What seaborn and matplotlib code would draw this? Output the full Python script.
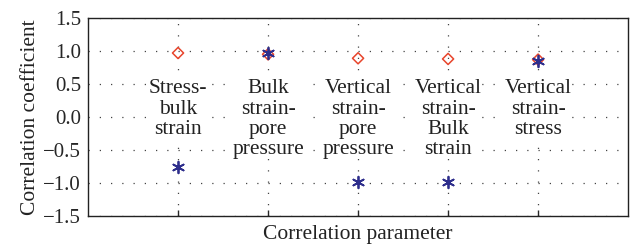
import matplotlib
matplotlib.use("Agg")
import matplotlib.pyplot as plt
import seaborn as sns
import pandas as pd

categories = ["Stress-\nbulk\nstrain", "Bulk\nstrain-\npore\npressure",
              "Vertical\nstrain-\npore\npressure", "Vertical\nstrain-\nBulk\nstrain",
              "Vertical\nstrain-\nstress"]
positions = [1, 2, 3, 4, 5]
series_a = [0.97, 0.95, 0.89, 0.88, 0.87]     # red diamonds
series_b = [-0.76, 0.97, -0.99, -0.99, 0.85]  # blue asterisks
yticks = [1.5, 1.0, 0.5, 0.0, -0.5, -1.0, -1.5]

sns.set_theme(style="white")
plt.rcParams["font.family"] = ["Liberation Serif", "DejaVu Serif"]
plt.rcParams["axes.unicode_minus"] = True

df = pd.DataFrame({
    "pos": positions * 2,
    "val": series_a + series_b,
    "series": ["A"] * 5 + ["B"] * 5,
})

fig = plt.figure(figsize=(6.30, 2.47), dpi=100)
ax = fig.add_axes([0.1397, 0.1255, 0.8573, 0.8015])

red = "#e8452c"
blue = "#2e2e8c"
sns.scatterplot(data=df[df.series == "A"], x="pos", y="val", ax=ax,
                marker="D", s=32, facecolor="none", edgecolor=red, linewidth=1.1,
                legend=False, zorder=3)
sns.scatterplot(data=df[df.series == "B"], x="pos", y="val", ax=ax,
                marker=(6, 2, 0), s=70, color=blue, linewidth=1.3,
                legend=False, zorder=4)

for p, lab in zip(positions, categories):
    ax.text(p, 0.57, lab, ha="center", va="top", fontsize=15.5, linespacing=1.08,
            color="#222222", zorder=2,
            bbox=dict(facecolor="white", edgecolor="none", pad=0.5))

ax.set_xlim(0, 6)
ax.set_ylim(-1.5, 1.5)
ax.set_xticks(positions)
ax.set_xticklabels([])
ax.set_yticks(yticks)
ax.set_yticklabels([f"{t:.1f}".replace("-", "\u2212") for t in yticks], fontsize=15)
ax.tick_params(axis="x", direction="in", length=4, width=1, bottom=True)
ax.tick_params(axis="y", direction="in", length=0, left=True, pad=5)
ax.grid(True, linestyle=(0, (1, 8)), color="#444444", linewidth=0.9)
for s in ax.spines.values():
    s.set_color("#222222")
    s.set_linewidth(1.0)
ax.set_xlabel("Correlation parameter", fontsize=15.5, labelpad=3, color="#222222")
ax.set_ylabel("Correlation coefficient", fontsize=15.5, labelpad=2, color="#222222")

fig.savefig("out.png", dpi=100)
